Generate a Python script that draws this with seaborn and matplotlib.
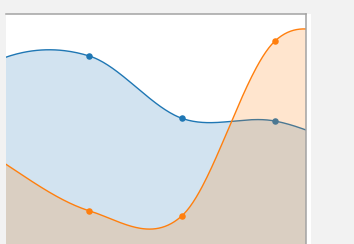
import numpy as np
import seaborn as sns
import matplotlib.pyplot as plt
from matplotlib.patches import Rectangle

# category positions; the outer ones sit outside the visible window
positions = [-1, 0, 1, 2, 3, 4, 5]
series_one = [50, 80.5, 82.5, 56.5, 55.4, 42, 33]
series_two = [68, 40, 18, 16, 88.75, 88, 92]
series_colors = ["#1f77b4", "#ff7f0e"]


def smooth(xs, ys, steps=60):
    # catmull-rom style cubic hermite through the points
    xs = np.asarray(xs, float)
    ys = np.asarray(ys, float)
    m = np.gradient(ys, xs)
    out_x, out_y = [], []
    for i in range(len(xs) - 1):
        t = np.linspace(0, 1, steps, endpoint=False)
        h = xs[i + 1] - xs[i]
        h00 = 2 * t**3 - 3 * t**2 + 1
        h10 = t**3 - 2 * t**2 + t
        h01 = -2 * t**3 + 3 * t**2
        h11 = t**3 - t**2
        out_y.append(h00 * ys[i] + h10 * h * m[i] + h01 * ys[i + 1] + h11 * h * m[i + 1])
        out_x.append(xs[i] + t * h)
    out_x.append([xs[-1]])
    out_y.append([ys[-1]])
    return np.concatenate(out_x), np.concatenate(out_y)


fig = plt.figure(figsize=(3.54, 2.44), dpi=100)
fig.patch.set_facecolor("#f2f2f2")
fig.patches.append(Rectangle((6 / 354, 0), 305 / 354, 230 / 244, transform=fig.transFigure,
                             facecolor="white", edgecolor="none", zorder=-1))
ax = fig.add_axes([6 / 354, -10 / 244, 300 / 354, 240 / 244])
ax.set_facecolor("white")

# each series drawn as a whole (area, line, markers) on top of the previous one
for k, (vals, col) in enumerate(zip([series_one, series_two], series_colors)):
    sx, sy = smooth(positions, vals)
    ax.fill_between(sx, sy, 0, color=col, alpha=0.2, lw=0, zorder=1 + 3 * k)
    sns.lineplot(x=sx, y=sy, ax=ax, color=col, lw=1.0, sort=False, estimator=None,
                 legend=False, zorder=2 + 3 * k)
    sns.scatterplot(x=positions, y=vals, ax=ax, color=col, s=22, edgecolor=col, linewidth=0,
                    legend=False, zorder=3 + 3 * k)

ax.set_xlim(0.103, 3.334)
ax.set_ylim(0, 100)
ax.set_xticks([])
ax.set_yticks([])
ax.set_xlabel("")
ax.set_ylabel("")
for side in ["left", "bottom"]:
    ax.spines[side].set_visible(False)
for side in ["top", "right"]:
    ax.spines[side].set_color("#a3a3a3")
    ax.spines[side].set_linewidth(1.1)
    ax.spines[side].set_zorder(10)

fig.savefig("out.png", dpi=100)
